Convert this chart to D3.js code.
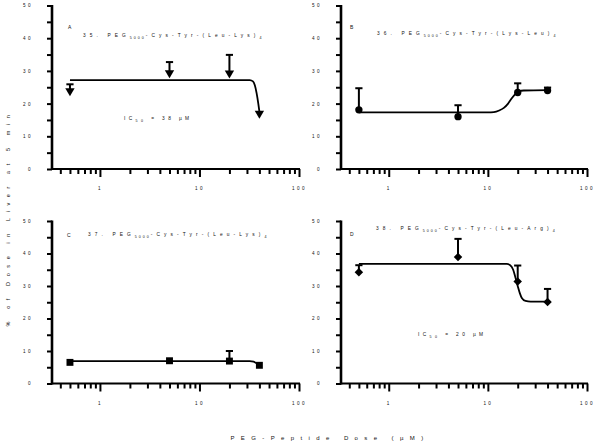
<!DOCTYPE html>
<html><head><meta charset="utf-8">
<script src="https://cdn.jsdelivr.net/npm/d3@7"></script>
<style>
body{margin:0;background:#fff}
svg{display:block}
text{font-family:"Liberation Sans",Arial,sans-serif;fill:#111}
</style>
</head><body><svg id="c" width="600" height="443"></svg>
<script>
// ---------- data ----------
const doses = [0.5, 5, 20, 40];
const panelLetters = ["A", "B", "C", "D"];
const compoundNumbers = ["35", "36", "37", "38"];
const pegSubscript = "5000";
const peptideTails = ["(Leu-Lys)", "(Lys-Leu)", "(Leu-Lys)", "(Leu-Arg)"];
const repeatSubscript = "4";

const valuesA = [23.9, 29.4, 29.3, 17.0];
const errorsA = [2.0, 3.3, 5.6, 0];
const valuesB = [18.1, 16.0, 23.4, 24.0];
const errorsB = [6.6, 3.5, 2.8, 0.9];
const valuesC = [6.5, 7.0, 6.9, 5.6];
const errorsC = [0, 0, 3.1, 0];
const valuesD = [34.2, 38.9, 31.4, 25.1];
const errorsD = [2.2, 5.6, 4.9, 4.0];

// fitted curves, points: [dose, value]
const curveA = [[0.5, 27.2], [32, 27.2], [34.5, 26.8], [36, 25.6], [37.5, 23.2], [39, 20.0], [40, 17.6]];
const curveB = [[0.5, 17.3], [10, 17.3], [11.5, 17.4], [13, 17.9], [14.5, 18.7], [16, 20.0], [17.5, 21.7], [19, 23.0], [20.5, 23.7], [23, 24.0], [40, 24.1]];
const curveC = [[0.5, 6.9], [32, 6.9], [35, 6.7], [38, 6.1], [40, 5.7]];
const curveD = [[0.5, 36.8], [15.5, 36.8], [16.8, 36.4], [18, 35.0], [19, 32.5], [20, 30.0], [21, 27.8], [22, 26.3], [24, 25.4], [27, 25.2], [40, 25.2]];

const ic50Values = ["38", null, null, "20"];

const yTickValues = [0, 10, 20, 30, 40, 50];
const yMinorTicks = [5, 15, 25, 35, 45];
const xTickValues = [1, 10, 100];
const xTickLabels = ["1", "10", "100"];
const xMinorTicks = [0.4, 0.5, 0.6, 0.7, 0.8, 0.9, 2, 3, 4, 5, 6, 7, 8, 9, 20, 30, 40, 50, 60, 70, 80, 90];
const xDomain = [0.33, 100];
const yDomain = [0, 50];

const yAxisTitle = "% of Dose in Liver at 5 min";
const xAxisTitle = "PEG-Peptide Dose (\u00b5M)";

// ---------- layout ----------
const svg = d3.select("#c");
const panels = [
  {vals: valuesA, errs: errorsA, curve: curveA, marker: "tri", left: 52, right: 299, top: 5.5, bottom: 169,
   letterPos: [68, 29], titlePos: [83, 37], icPos: [124, 120]},
  {vals: valuesB, errs: errorsB, curve: curveB, marker: "circle", left: 341, right: 587, top: 5.5, bottom: 169,
   letterPos: [350, 29], titlePos: [377, 35], icPos: null},
  {vals: valuesC, errs: errorsC, curve: curveC, marker: "square", left: 52, right: 299, top: 221, bottom: 383.5,
   letterPos: [67, 237], titlePos: [88, 236], icPos: null},
  {vals: valuesD, errs: errorsD, curve: curveD, marker: "diamond", left: 341, right: 587, top: 221, bottom: 383.5,
   letterPos: [350, 236], titlePos: [376, 230], icPos: [418, 336]}
];

const symbolFor = {
  tri: d3.symbol().type(d3.symbolTriangle).size(38),
  circle: d3.symbol().type(d3.symbolCircle).size(42),
  square: d3.symbol().type(d3.symbolSquare).size(48),
  diamond: d3.symbol().type(d3.symbolSquare).size(36)
};

panels.forEach((p, i) => {
  const x = d3.scaleLog().domain(xDomain).range([p.left, p.right]);
  const y = d3.scaleLinear().domain(yDomain).range([p.bottom, p.top]);
  const g = svg.append("g");

  // y axis
  const ya = d3.axisLeft(y).tickValues(yTickValues).tickSize(5).tickPadding(14).tickFormat(d3.format("d"));
  const yg = g.append("g").attr("transform", `translate(${p.left},0)`).call(ya);
  const ym = g.append("g").attr("transform", `translate(${p.left},0)`).call(d3.axisLeft(y).tickValues(yMinorTicks).tickSize(5).tickFormat(""));
  // x axis
  const xa = d3.axisBottom(x).tickValues(xTickValues).tickSize(8).tickPadding(10).tickFormat((d, k) => xTickLabels[k]);
  const xg = g.append("g").attr("transform", `translate(0,${p.bottom})`).call(xa);
  const xm = g.append("g").attr("transform", `translate(0,${p.bottom})`).call(d3.axisBottom(x).tickValues(xMinorTicks).tickSize(5).tickFormat(""));

  [yg, ym, xg, xm].forEach(a => {
    a.select(".domain").remove();
    a.selectAll(".tick line").attr("stroke", "#000").attr("stroke-width", 2);
  });
  yg.selectAll(".tick text").attr("font-size", 4.6).attr("letter-spacing", 2.4).attr("font-family", "Liberation Sans, Arial, sans-serif").attr("fill", "#111");
  xg.selectAll(".tick text").attr("font-size", 4.6).attr("letter-spacing", 2.4).attr("font-family", "Liberation Sans, Arial, sans-serif").attr("fill", "#111");
  // axis lines
  g.append("line").attr("x1", p.left).attr("x2", p.left).attr("y1", y(50) - 0.5).attr("y2", p.bottom + 1)
    .attr("stroke", "#000").attr("stroke-width", 2.6);
  g.append("line").attr("x1", p.left).attr("x2", p.right + 1).attr("y1", p.bottom).attr("y2", p.bottom)
    .attr("stroke", "#000").attr("stroke-width", 2.2);

  // fitted curve
  g.append("path").datum(p.curve)
    .attr("d", d3.line().x(d => x(d[0])).y(d => y(d[1])).curve(d3.curveMonotoneX))
    .attr("fill", "none").attr("stroke", "#000").attr("stroke-width", 1.8);

  // error bars (upper only)
  const pts = doses.map((d, k) => ({dose: d, v: p.vals[k], e: p.errs[k]}));
  pts.filter(d => d.e > 0).forEach(d => {
    const cx = x(d.dose);
    g.append("line").attr("x1", cx).attr("x2", cx).attr("y1", y(d.v)).attr("y2", y(d.v + d.e))
      .attr("stroke", "#000").attr("stroke-width", 2);
    g.append("line").attr("x1", cx - 3.6).attr("x2", cx + 3.6).attr("y1", y(d.v + d.e)).attr("y2", y(d.v + d.e))
      .attr("stroke", "#000").attr("stroke-width", 2);
  });

  // markers
  g.selectAll(".m").data(pts).join("path")
    .attr("d", symbolFor[p.marker])
    .attr("transform", d => {
      const t = `translate(${x(d.dose)},${y(d.v)})`;
      if (p.marker === "tri") return t + " rotate(180)";
      if (p.marker === "diamond") return t + " rotate(45)";
      return t;
    })
    .attr("fill", "#000");

  // panel letter
  g.append("text").attr("x", p.letterPos[0]).attr("y", p.letterPos[1]).attr("font-size", 5).text(panelLetters[i]);

  // title
  const t = g.append("text").attr("x", p.titlePos[0]).attr("y", p.titlePos[1]).attr("font-size", 4.8).attr("letter-spacing", 4.1);
  t.append("tspan").text(compoundNumbers[i] + ". PEG");
  t.append("tspan").attr("dy", 2).attr("font-size", 3.6).attr("letter-spacing", 2.0).text(pegSubscript);
  t.append("tspan").attr("dy", -2).text("-Cys-Tyr-" + peptideTails[i]);
  t.append("tspan").attr("dy", 2).attr("font-size", 3.6).text(repeatSubscript);

  // IC50 label
  if (p.icPos && ic50Values[i]) {
    const ic = g.append("text").attr("x", p.icPos[0]).attr("y", p.icPos[1]).attr("font-size", 4.8).attr("letter-spacing", 3.4);
    ic.append("tspan").text("IC");
    ic.append("tspan").attr("dy", 2).attr("font-size", 3.6).text("50");
    ic.append("tspan").attr("dy", -2).text(" = " + ic50Values[i] + " \u00b5M");
  }
});

// global axis titles
svg.append("text").attr("transform", "translate(10,218) rotate(-90)").attr("text-anchor", "middle")
  .attr("font-size", 5.5).attr("letter-spacing", 5.6).text(yAxisTitle);
svg.append("text").attr("x", 330).attr("y", 440).attr("text-anchor", "middle")
  .attr("font-size", 6).attr("letter-spacing", 6.4).text(xAxisTitle);
</script>
</body></html>
